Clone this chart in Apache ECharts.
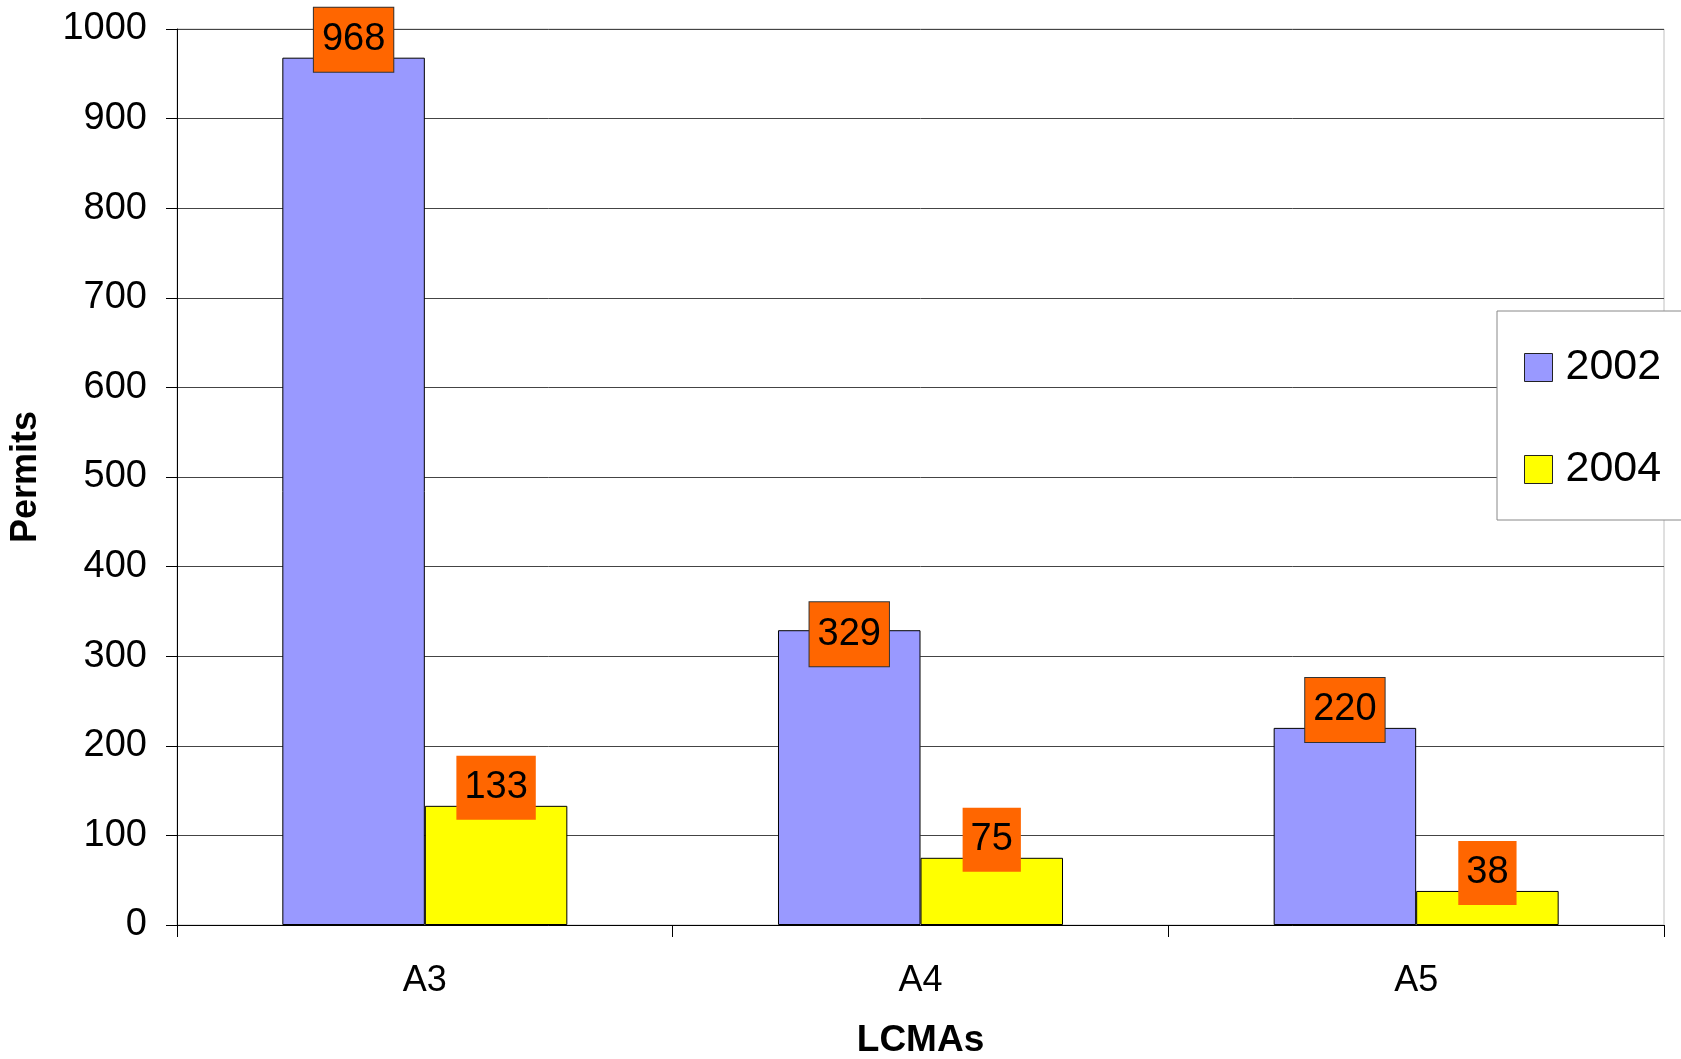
<!DOCTYPE html>
<html>
<head>
<meta charset="utf-8">
<script src="https://cdn.jsdelivr.net/npm/echarts@6/dist/echarts.min.js"></script>
<style>
html,body{margin:0;padding:0;background:#fff;}
#chart{width:1681px;height:1059px;}
</style>
</head>
<body>
<div id="chart"></div>
<script>
var categories = ['A3', 'A4', 'A5'];
var seriesNames = ['2002', '2004'];
var values2002 = [968, 329, 220];
var values2004 = [133, 75, 38];

var FONT = '"Liberation Sans", Arial, sans-serif';

var chart = echarts.init(document.getElementById('chart'));

function labelCfg(withBorder) {
  var l = {
    show: true,
    position: 'top',
    distance: -14,
    color: '#000',
    fontFamily: FONT,
    fontSize: 38,
    lineHeight: 40,
    backgroundColor: '#FF6600',
    padding: [12, 8, 12, 8]
  };
  if (withBorder) { l.borderColor = '#333'; l.borderWidth = 1; }
  return l;
}

// label placement tweak for the A4 / 2002 bar (style only)
var data2002 = values2002.map(function (v, i) {
  return i === 1 ? { value: v, label: { distance: -36 } } : v;
});

chart.setOption({
  animation: false,
  backgroundColor: '#fff',
  textStyle: { fontFamily: FONT },
  grid: {
    left: 177, right: 17, top: 29, bottom: 134,
    containLabel: false,
    outerBoundsMode: 'none',
    show: true, borderColor: '#c0c0c0', borderWidth: 1, backgroundColor: 'transparent'
  },
  legend: {
    orient: 'vertical',
    left: 1497,
    top: 311,
    data: seriesNames,
    itemWidth: 28,
    itemHeight: 28,
    itemGap: 59,
    icon: 'rect',
    backgroundColor: '#fff',
    borderColor: '#888',
    borderWidth: 1,
    padding: [35, 40, 29, 27],
    textStyle: { fontFamily: FONT, fontSize: 43, color: '#000', lineHeight: 40, padding: [0, 0, 0, 8] },
    itemStyle: { borderColor: '#222', borderWidth: 1 }
  },
  xAxis: {
    type: 'category',
    data: categories,
    name: 'LCMAs',
    nameLocation: 'middle',
    nameGap: 97,
    nameTextStyle: { fontFamily: FONT, fontSize: 37, fontWeight: 'bold', color: '#000' },
    axisLine: { lineStyle: { color: '#000', width: 1 } },
    axisTick: { show: true, length: 12, lineStyle: { color: '#000' } },
    axisLabel: { margin: 38, fontFamily: FONT, fontSize: 36, color: '#000' },
    splitLine: { show: false }
  },
  yAxis: {
    type: 'value',
    min: 0, max: 1000, interval: 100,
    name: 'Permits',
    nameLocation: 'middle',
    nameGap: 133,
    nameRotate: 90,
    nameTextStyle: { fontFamily: FONT, fontSize: 36, fontWeight: 'bold', color: '#000' },
    axisLine: { show: true, lineStyle: { color: '#000', width: 1 } },
    axisTick: { show: true, length: 11, lineStyle: { color: '#000' } },
    axisLabel: { margin: 30, fontFamily: FONT, fontSize: 38, color: '#000',
      formatter: function (v) { return String(v); } },
    splitLine: { show: true, lineStyle: { color: '#444', width: 1 } }
  },
  series: [
    {
      name: seriesNames[0],
      type: 'bar',
      data: data2002,
      barGap: '0%',
      barCategoryGap: '42.5%',
      itemStyle: { color: '#9999FF', borderColor: '#000', borderWidth: 1 },
      label: labelCfg(true)
    },
    {
      name: seriesNames[1],
      type: 'bar',
      data: values2004,
      barGap: '0%',
      barCategoryGap: '42.5%',
      itemStyle: { color: '#FFFF00', borderColor: '#000', borderWidth: 1 },
      label: labelCfg(false)
    }
  ]
});
</script>
</body>
</html>
